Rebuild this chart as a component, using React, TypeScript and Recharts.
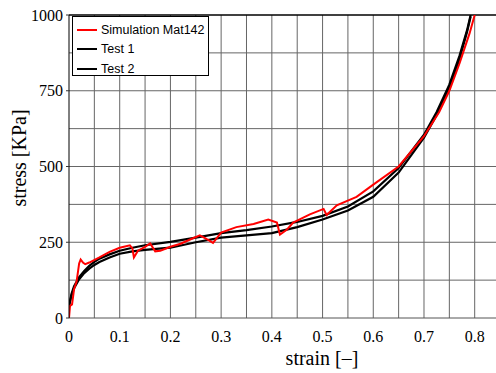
import React from "react";
import {
  LineChart,
  Line,
  XAxis,
  YAxis,
  ReferenceLine,
  Label,
} from "recharts";

// strain / stress
const simStrain = [
  0, 0.002, 0.006, 0.01, 0.015, 0.02, 0.023, 0.028, 0.032, 0.04, 0.06, 0.08,
  0.1, 0.12, 0.125, 0.128, 0.136, 0.15, 0.16, 0.17, 0.18, 0.2, 0.22, 0.24,
  0.258, 0.27, 0.284, 0.3, 0.33, 0.364, 0.393, 0.41, 0.416, 0.43, 0.442, 0.475,
  0.502, 0.508, 0.528, 0.567, 0.6, 0.65, 0.7, 0.73, 0.75, 0.77, 0.79, 0.8,
];
const simStress = [
  0, 40, 45, 95, 120, 180, 193, 182, 178, 183, 200, 218, 232, 240, 230, 200,
  222, 235, 246, 220, 222, 235, 245, 260, 273, 262, 248, 282, 300, 310, 325,
  315, 275, 292, 315, 342, 360, 340, 372, 400, 440, 500, 600, 680, 750, 840,
  940, 1000,
];

const testStrain = [
  0, 0.005, 0.01, 0.02, 0.03, 0.04, 0.05, 0.06, 0.08, 0.1, 0.125, 0.15, 0.2,
  0.25, 0.3, 0.35, 0.4, 0.45, 0.5, 0.55, 0.6, 0.65, 0.7, 0.725, 0.75, 0.77,
  0.785, 0.792,
];
const test1Stress = [
  40, 80, 105, 135, 155, 172, 185, 196, 210, 222, 232, 240, 251, 265, 280, 290,
  302, 317, 337, 368, 418, 495, 605, 680, 770, 865, 950, 1000,
];
const test2Stress = [
  40, 75, 98, 128, 148, 163, 175, 185, 200, 212, 220, 225, 232, 250, 265, 273,
  280, 300, 325, 355, 400, 480, 595, 670, 760, 855, 945, 995,
];

const xTicks = [0, 0.1, 0.2, 0.3, 0.4, 0.5, 0.6, 0.7, 0.8];
const yTicks = [0, 250, 500, 750, 1000];
const gridX = [0.05, 0.1, 0.15, 0.2, 0.25, 0.3, 0.35, 0.4, 0.45, 0.5, 0.55, 0.6, 0.65, 0.7, 0.75, 0.8];
const gridY = [125, 250, 375, 500, 625, 750, 875];

const series = [
  { name: "Simulation Mat142", color: "#ff0000" },
  { name: "Test 1", color: "#000000" },
  { name: "Test 2", color: "#000000" },
];

const simData = simStrain.map((s, i) => ({ strain: s, stress: simStress[i] }));
const test1Data = testStrain.map((s, i) => ({ strain: s, stress: test1Stress[i] }));
const test2Data = testStrain.map((s, i) => ({ strain: s, stress: test2Stress[i] }));

const serif = "'Liberation Serif', 'Times New Roman', serif";

const LegendBox = () => (
  <div
    style={{
      position: "absolute",
      left: 72,
      top: 16,
      border: "1px solid #000",
      background: "#fff",
      width: 137,
      height: 60,
      boxSizing: "border-box",
      padding: "3px 0 0 4px",
      fontFamily: "'Liberation Sans', Arial, sans-serif",
      fontSize: 12.5,
      color: "#000",
      whiteSpace: "nowrap",
    }}
  >
    {series.map((s) => (
      <div key={s.name} style={{ display: "flex", alignItems: "center", height: 19.5 }}>
        <div style={{ width: 20, height: 2, background: s.color, marginRight: 4 }} />
        <span>{s.name}</span>
      </div>
    ))}
  </div>
);

export default function App() {
  return (
    <div style={{ position: "absolute", left: 0, top: 0, background: "#fff" }}>
      <LineChart
        width={496}
        height={373}
        margin={{ top: 15, right: 0, bottom: 0, left: 0 }}
      >
        <XAxis
          dataKey="strain"
          type="number"
          domain={[0, 0.842]}
          ticks={xTicks}
          allowDataOverflow
          height={55}
          axisLine={{ stroke: "#555" }}
          tickLine={false}
          tick={{ fontFamily: serif, fontSize: 16, fill: "#000" }}
          tickMargin={7}
        >
          <Label
            content={() => (
              <text x={322} y={365} textAnchor="middle" fontFamily={serif} fontSize={20} fill="#000">
                strain [–]
              </text>
            )}
          />
        </XAxis>
        <YAxis
          dataKey="stress"
          type="number"
          domain={[0, 1000]}
          ticks={yTicks}
          allowDataOverflow
          width={69}
          axisLine={{ stroke: "#000" }}
          tickLine={{ stroke: "#333" }}
          tickSize={3}
          tickMargin={3}
          tick={{ fontFamily: serif, fontSize: 16, fill: "#000" }}
        >
          <Label
            content={() => (
              <text
                x={0}
                y={0}
                transform="translate(26 158) rotate(-90)"
                textAnchor="middle"
                fontFamily={serif}
                fontSize={20}
                fill="#000"
              >
                stress [KPa]
              </text>
            )}
          />
        </YAxis>
        {gridX.map((v) => (
          <ReferenceLine key={"x" + v} x={v} stroke="#666" strokeWidth={1} />
        ))}
        {gridY.map((v) => (
          <ReferenceLine key={"y" + v} y={v} stroke="#666" strokeWidth={1} />
        ))}
        <ReferenceLine y={1000} stroke="#000" strokeWidth={1.5} />
        <Line
          data={test2Data}
          dataKey="stress"
          name="Test 2"
          stroke="#000"
          strokeWidth={2.2}
          dot={false}
          type="linear"
          isAnimationActive={false}
        />
        <Line
          data={test1Data}
          dataKey="stress"
          name="Test 1"
          stroke="#000"
          strokeWidth={2.2}
          dot={false}
          type="linear"
          isAnimationActive={false}
        />
        <Line
          data={simData}
          dataKey="stress"
          name="Simulation Mat142"
          stroke="#ff0000"
          strokeWidth={2}
          dot={false}
          type="linear"
          isAnimationActive={false}
        />
      </LineChart>
      <LegendBox />
    </div>
  );
}
